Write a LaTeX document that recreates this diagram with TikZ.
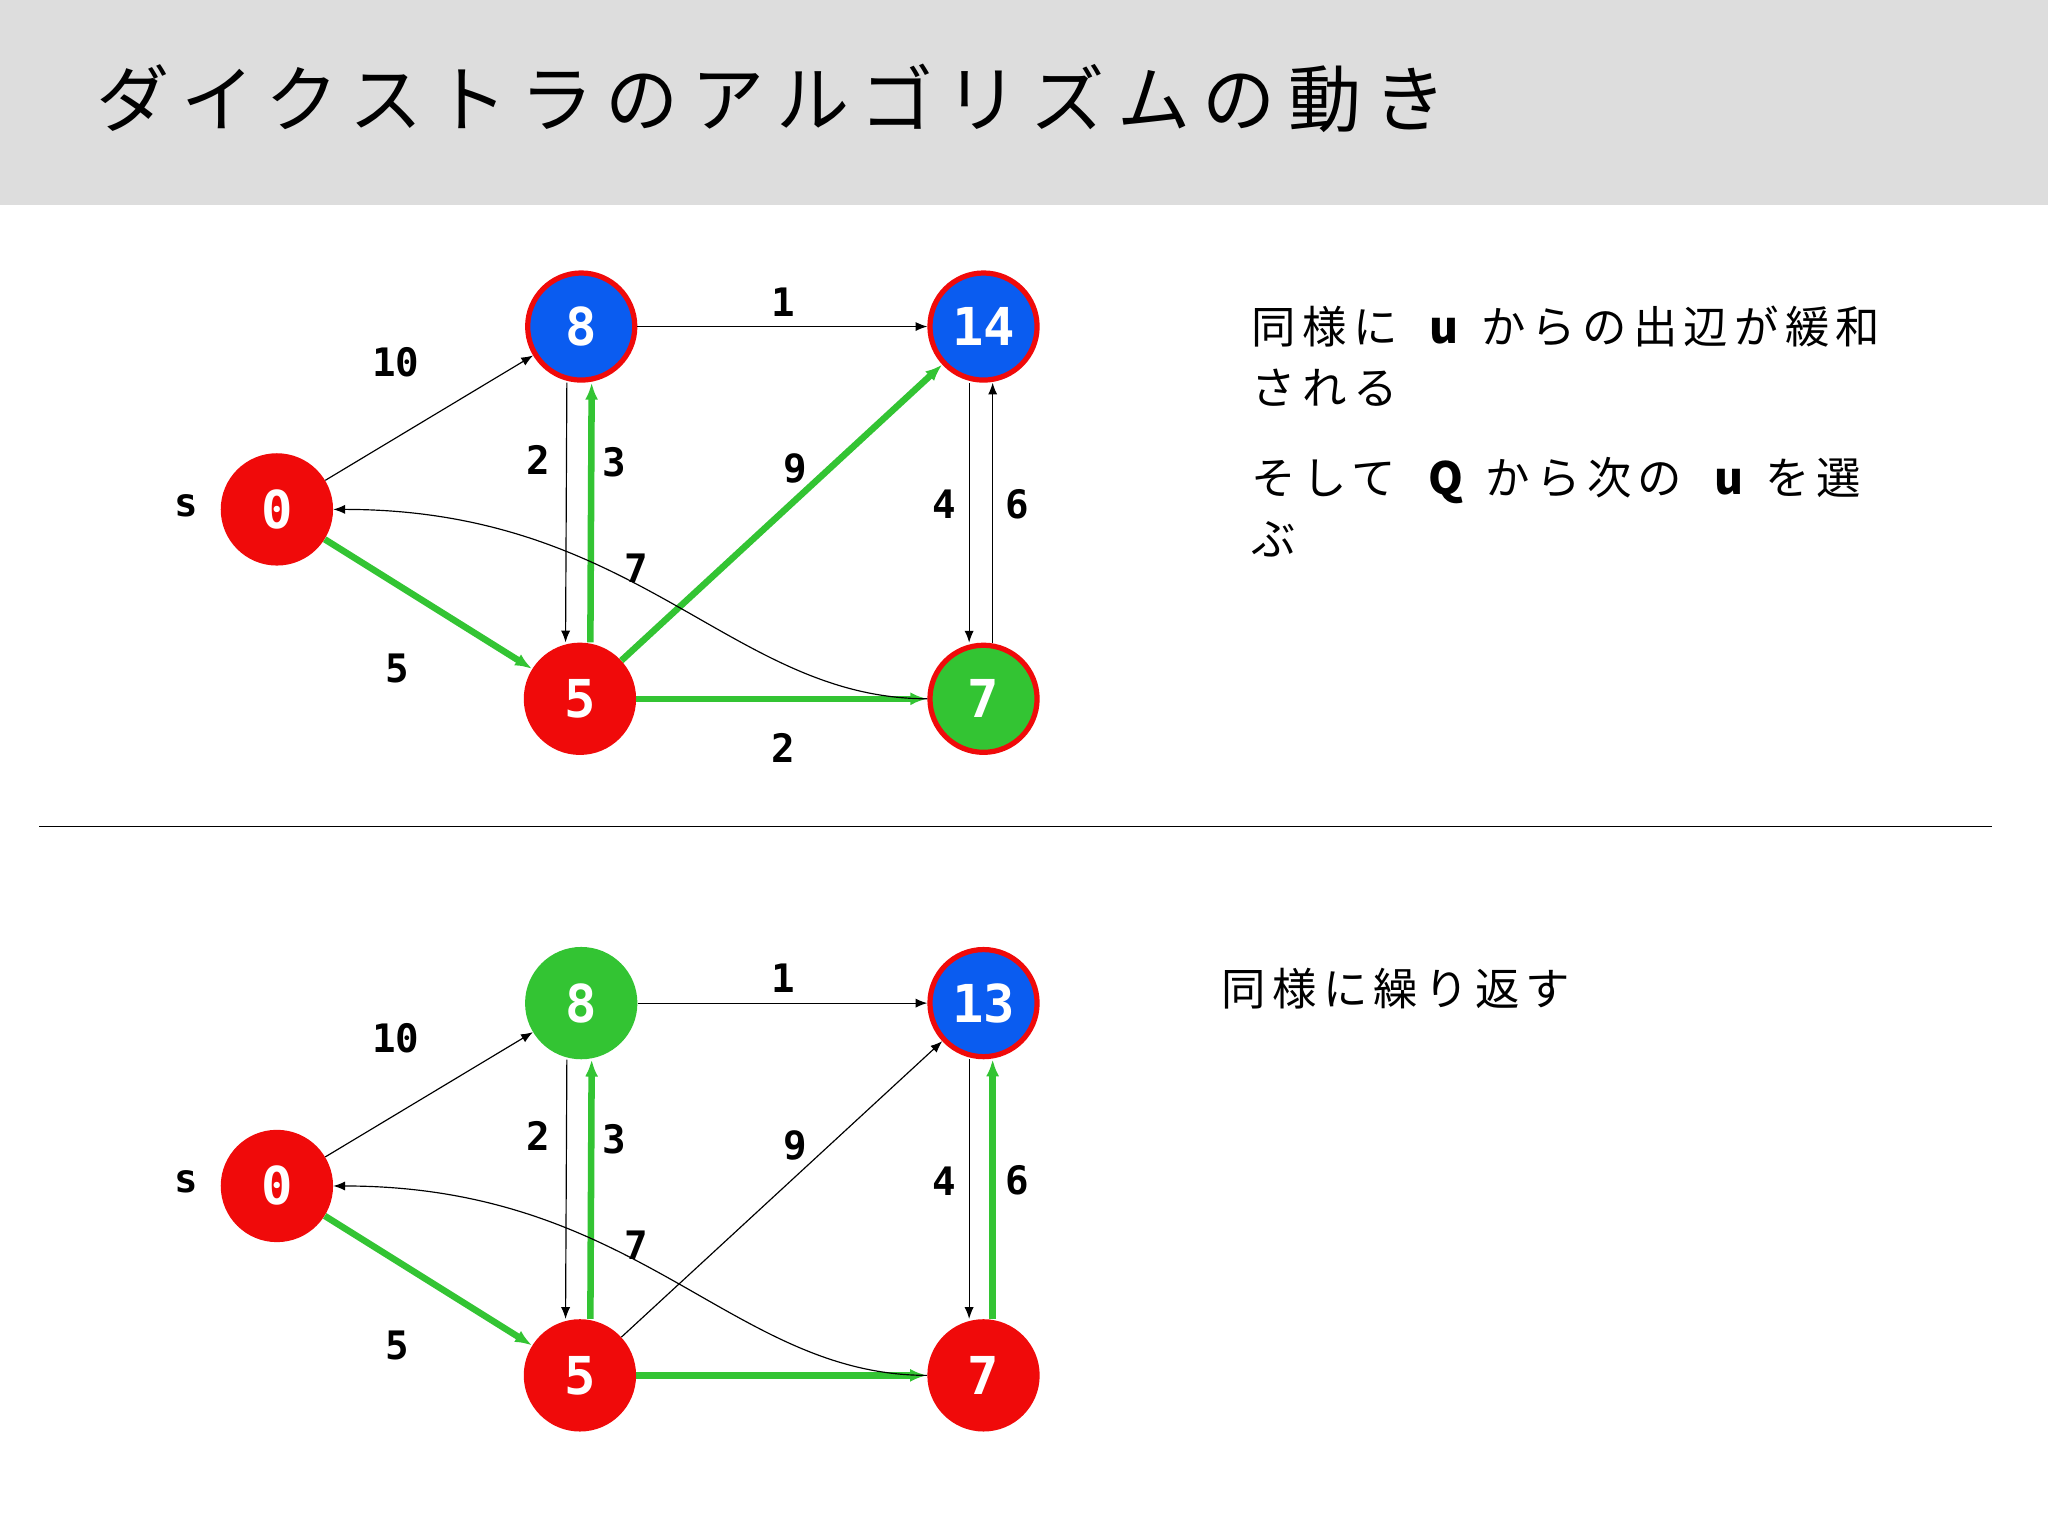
\documentclass[tikz,border=0pt]{standalone}
\usepackage{fontspec}
\setmainfont{DejaVu Sans}
\newfontfamily\jp[LetterSpace=17]{Noto Sans CJK JP}
\newfontfamily\jpt[LetterSpace=14]{Noto Sans CJK JP}
\newfontfamily\num{DejaVu Sans Mono}
\usetikzlibrary{arrows.meta}
\definecolor{gr}{HTML}{33C433}
\definecolor{bl}{HTML}{0A5CF0}
\definecolor{rd}{HTML}{F00A0A}
\begin{document}
\begin{tikzpicture}[x=1pt,y=-1pt,
 vx/.style={circle,minimum size=86pt,inner sep=0pt,text=white,font=\num\bfseries\fontsize{40}{40}\selectfont},
 vr/.style={vx,fill=rd},
 vb/.style={vx,fill=bl,draw=rd,line width=4pt,minimum size=82pt},
 vg/.style={vx,fill=gr,draw=rd,line width=4pt,minimum size=82pt},
 vgn/.style={vx,fill=gr},
 th/.style={-{Latex[length=9pt,width=7pt]},line width=0.9pt},
 gg/.style={-{Latex[length=13pt,width=10pt]},line width=5pt,draw=gr},
 el/.style={font=\num\bfseries\fontsize{30}{30}\selectfont},
 jt/.style={anchor=west,font=\jpt\fontsize{34}{34}\selectfont}]
\useasboundingbox (0,0) rectangle (1568,1176);
\fill[white] (0,0) rectangle (1568,1176);
\fill[gray!27] (0,0) rectangle (1568,157);
\node[anchor=west,font=\jp\fontsize{56}{56}\selectfont] (title) at (70,75) {ダイクストラのアルゴリズムの動き};
\draw[line width=1pt] (30,633) -- (1525,633);
% top graph
\node[vr] (s) at (212,390) {0};
\node[vb] (a) at (445,250) {8};
\node[vb] (b) at (753,250) {14};
\node[vr] (c) at (444,535) {5};
\node[vg] (d) at (753,535) {7};
\node[el] (ls) at (143,387) {s};
\draw[th] (s) -- (a);
\draw[gg] (s) -- (c);
\draw[th] (a) -- (b);
\draw[th] ([xshift=-11pt]a.south) -- ([xshift=-11pt]c.north);
\draw[gg] ([xshift=8pt]c.north) -- ([xshift=8pt]a.south);
\draw[gg] (c) -- (b);
\draw[gg] (c) -- (d);
\draw[th] ([xshift=-11pt]b.south) -- ([xshift=-11pt]d.north);
\draw[th] ([xshift=7pt]d.north) -- ([xshift=7pt]b.south);
\draw[th] (d.west) .. controls (560,535) and (490,390) .. (s.east);
\node[el] (l1) at (303,277) {10};
\node[el] (l2) at (304,512) {5};
\node[el] (l3) at (412,352) {2};
\node[el] (l4) at (470,354) {3};
\node[el] (l5) at (600,231) {1};
\node[el] (l6) at (609,359) {9};
\node[el] (l7) at (487,435) {7};
\node[el] (l8) at (723,386) {4};
\node[el] (l9) at (779,386) {6};
\node[el] (l10) at (600,573) {2};
\node[jt] (t1) at (955,250) {同様に\ \ \textbf{u} からの出辺が緩和};
\node[jt] (t2) at (955,297) {される};
\node[jt] (t3) at (955,368) {そして\ \ \textbf{Q} から次の\ \ \textbf{u} を選};
\node[jt] (t4) at (955,413) {ぶ};
% bottom graph
\begin{scope}[yshift=-518pt]
\node[vr] (s2) at (212,390) {0};
\node[vgn] (a2) at (445,250) {8};
\node[vb] (b2) at (753,250) {13};
\node[vr] (c2) at (444,535) {5};
\node[vr] (d2) at (753,535) {7};
\node[el] (ls2) at (143,387) {s};
\draw[th] (s2) -- (a2);
\draw[gg] (s2) -- (c2);
\draw[th] (a2) -- (b2);
\draw[th] ([xshift=-11pt]a2.south) -- ([xshift=-11pt]c2.north);
\draw[gg] ([xshift=8pt]c2.north) -- ([xshift=8pt]a2.south);
\draw[th] (c2) -- (b2);
\draw[gg] (c2) -- (d2);
\draw[th] ([xshift=-11pt]b2.south) -- ([xshift=-11pt]d2.north);
\draw[gg] ([xshift=7pt]d2.north) -- ([xshift=7pt]b2.south);
\draw[th] (d2.west) .. controls (560,535) and (490,390) .. (s2.east);
\node[el] (m1) at (303,277) {10};
\node[el] (m2) at (304,512) {5};
\node[el] (m3) at (412,352) {2};
\node[el] (m4) at (470,354) {3};
\node[el] (m5) at (600,231) {1};
\node[el] (m6) at (609,359) {9};
\node[el] (m7) at (487,435) {7};
\node[el] (m8) at (723,386) {4};
\node[el] (m9) at (779,386) {6};
\node[jt] (u1) at (932,239) {同様に繰り返す};
\end{scope}
\end{tikzpicture}
\end{document}
